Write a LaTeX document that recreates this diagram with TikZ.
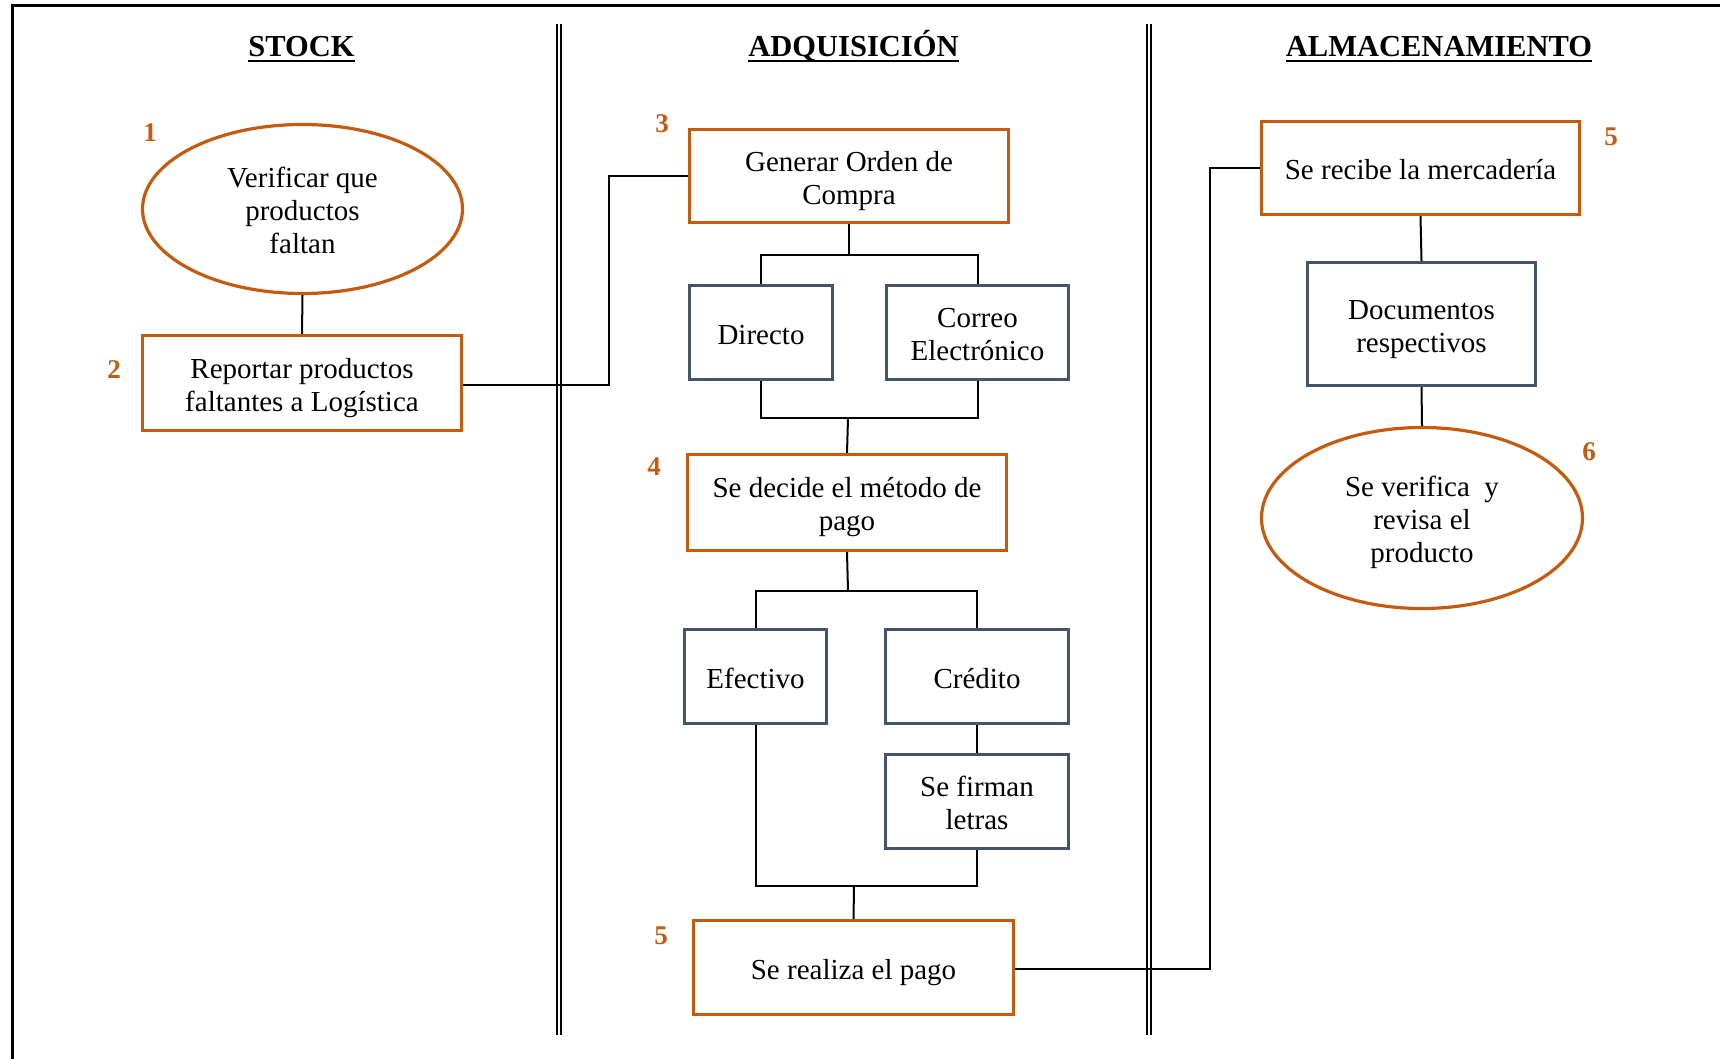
\documentclass[tikz,border=0pt]{standalone}
\usepackage{fontspec}
\setmainfont{Liberation Serif}
\usetikzlibrary{shapes.geometric}
\definecolor{steporange}{HTML}{C55A11}
\definecolor{optblue}{HTML}{44546A}
% centred block of lines, with a taller first row so the text sits a little low
\newcommand\boxtext[1]{\begin{tabular}{@{}c@{}}\rule{0pt}{33pt}#1\end{tabular}}
\begin{document}
\begin{tikzpicture}[x=1pt,y=-1pt,
  txt/.style={font=\fontsize{29}{33}\selectfont, inner sep=0pt},
  mainbox/.style={txt, rectangle, draw=steporange, line width=3.2pt},
  optbox/.style={txt, rectangle, draw=optblue, line width=3.2pt},
  mainoval/.style={txt, ellipse, draw=steporange, line width=3.2pt},
  num/.style={font=\fontsize{27}{27}\selectfont\bfseries, text=steporange, inner sep=0pt},
  header/.style={font=\fontsize{30.5}{33}\selectfont\bfseries, inner sep=0pt, anchor=base},
  link/.style={line width=2pt},
  lane/.style={line width=2pt}
]
\useasboundingbox (0,0) rectangle (1720,1059);

% outer frame (top and left edges)
\draw[line width=2.5pt] (12.5,1059) -- (12.5,5.7) -- (1720,5.7);

% lane separators (double rules)
\draw[lane] (557,24) -- (557,1035);
\draw[lane] (561,24) -- (561,1035);
\draw[lane] (1147,24) -- (1147,1035);
\draw[lane] (1151,24) -- (1151,1035);

% lane headers
\node[header] (hStock) at (301.5,57) {STOCK};
\node[header] (hAdq) at (853.5,57) {ADQUISICIÓN};
\node[header] (hAlm) at (1439,57) {ALMACENAMIENTO};
\foreach \h in {hStock,hAdq,hAlm}
  \draw[line width=2pt] ([yshift=-4pt]\h.base west) -- ([yshift=-4pt]\h.base east);

% STOCK lane
\node[mainoval, minimum width=320pt, minimum height=169pt] (e1) at (302.5,209) {\boxtext{Verificar que\\productos\\faltan}};
\node[mainbox, minimum width=319pt, minimum height=95pt] (b2) at (302,383) {\boxtext{Reportar productos\\faltantes a Logística}};
\node[num] (n1) at (150,133) {1};
\node[num] (n2) at (114,370) {2};

% ADQUISICION lane
\node[mainbox, minimum width=319pt, minimum height=93pt] (b3) at (849,176) {\boxtext{Generar Orden de\\Compra}};
\node[optbox, minimum width=143pt, minimum height=94pt] (dir) at (761,332.5) {\boxtext{Directo}};
\node[optbox, minimum width=182pt, minimum height=94pt] (cor) at (977.5,332.5) {\boxtext{Correo\\Electrónico}};
\node[mainbox, minimum width=319pt, minimum height=96pt] (b4) at (847,502.5) {\boxtext{Se decide el método de\\pago}};
\node[optbox, minimum width=142pt, minimum height=94pt] (ef) at (755.5,676.5) {\boxtext{Efectivo}};
\node[optbox, minimum width=183pt, minimum height=94pt] (cr) at (977,676.5) {\boxtext{Crédito}};
\node[optbox, minimum width=183pt, minimum height=94pt] (fir) at (977,801.5) {\boxtext{Se firman\\letras}};
\node[mainbox, minimum width=320pt, minimum height=94pt] (b5) at (853.5,967.5) {\boxtext{Se realiza el pago}};
\node[num] (n3) at (662,124) {3};
\node[num] (n4) at (654,467) {4};
\node[num] (n5a) at (661,936) {5};

% ALMACENAMIENTO lane
\node[mainbox, minimum width=318pt, minimum height=93pt] (rec) at (1420.5,168) {\boxtext{Se recibe la mercadería}};
\node[optbox, minimum width=228pt, minimum height=123pt] (doc) at (1421.5,324) {\boxtext{Documentos\\respectivos}};
\node[mainoval, minimum width=321pt, minimum height=181pt] (e6) at (1422,518) {\boxtext{Se verifica \ y\\revisa el\\producto}};
\node[num] (n5b) at (1611,137) {5};
\node[num] (n6) at (1589,452) {6};

% junction points
\coordinate (k1) at (608.5,385);
\coordinate (j1) at (849,255);
\coordinate (j2) at (848,418);
\coordinate (j3) at (848,591);
\coordinate (j4) at (854,886);
\coordinate (k2) at (1210,969);

% connectors
\draw[link] (e1.south) -- (b2.north);
\draw[link] (b2.east |- k1) -- (k1) |- (b3.west);
\draw[link] (b3.south) -- (j1);
\draw[link] (dir.north) |- (j1) -| (cor.north);
\draw[link] (dir.south) |- (j2) -| (cor.south);
\draw[link] (j2) -- (b4.north);
\draw[link] (b4.south) -- (j3);
\draw[link] (ef.north) |- (j3) -| (cr.north);
\draw[link] (cr.south) -- (fir.north);
\draw[link] (ef.south) |- (j4) -| (fir.south);
\draw[link] (j4) -- (b5.north);
\draw[link] (b5.east |- k2) -- (k2) |- (rec.west);
\draw[link] (rec.south) -- (doc.north);
\draw[link] (doc.south) -- (e6.north);
\end{tikzpicture}
\end{document}
